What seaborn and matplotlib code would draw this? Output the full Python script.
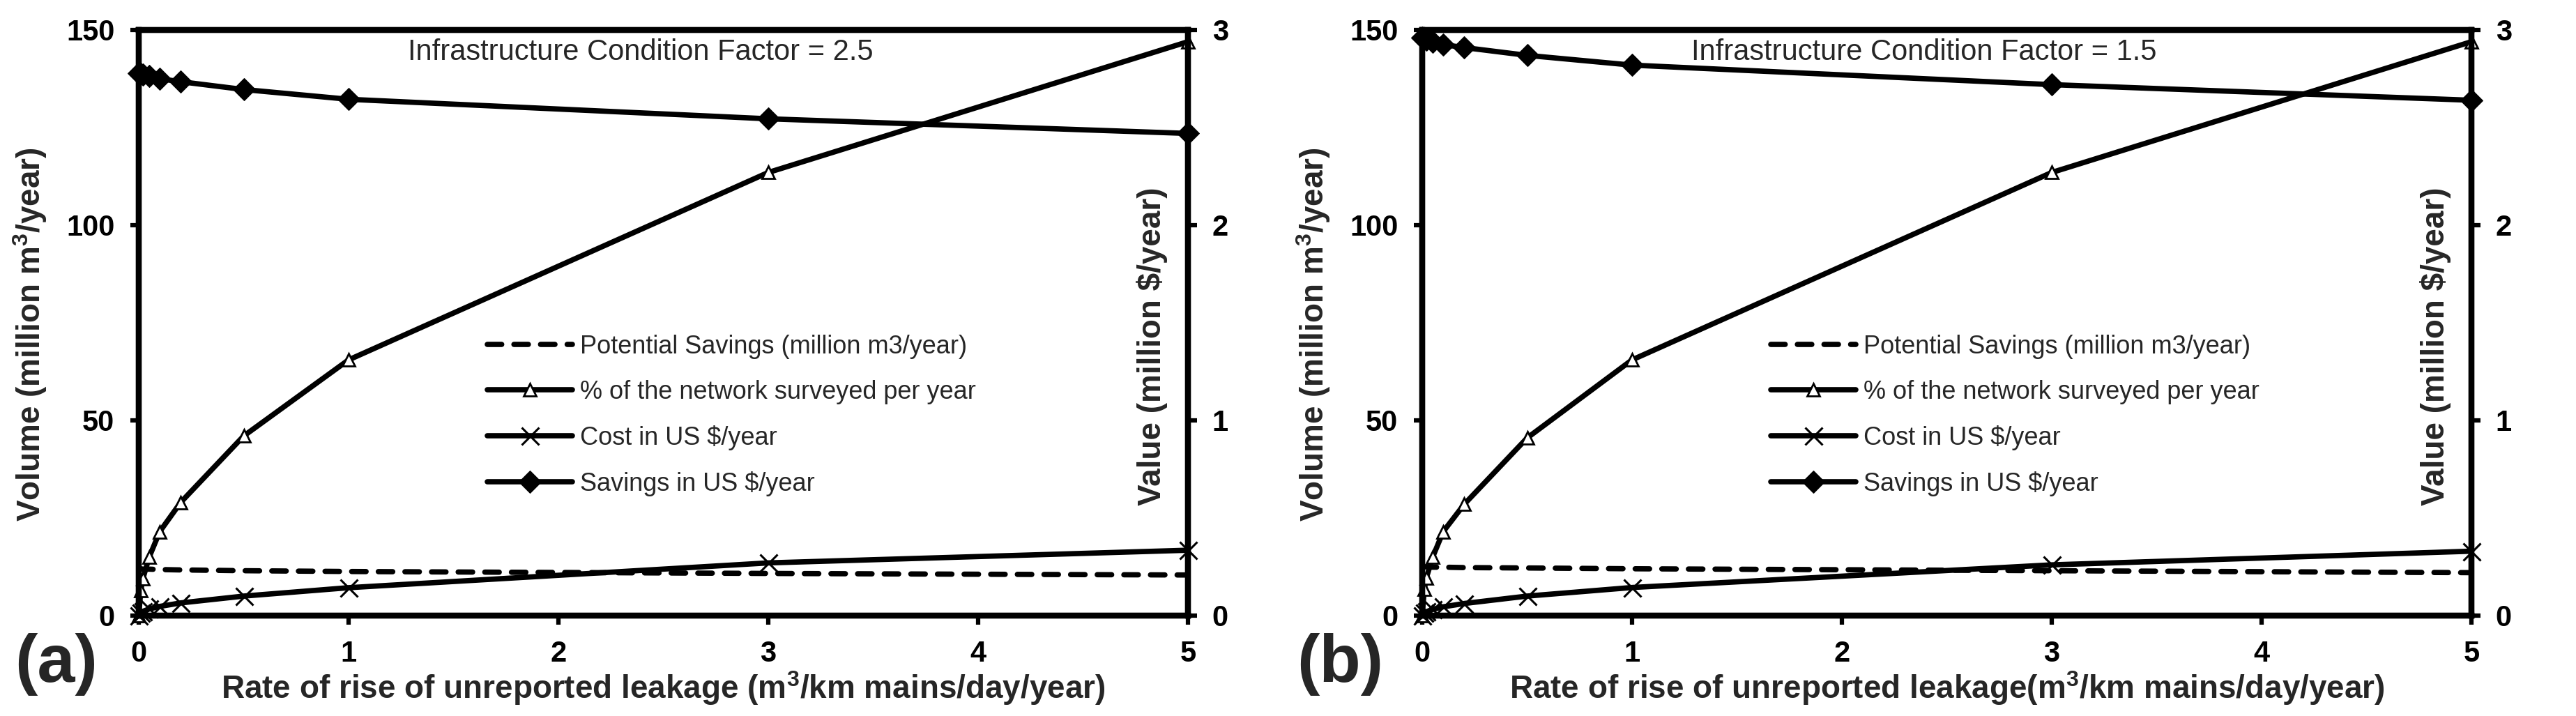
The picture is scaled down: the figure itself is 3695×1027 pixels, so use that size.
import numpy as np
import pandas as pd
import seaborn as sns
import matplotlib
matplotlib.use("Agg")
import matplotlib.pyplot as plt

# ---------------- data ----------------
rate = [0, 0.01, 0.02, 0.05, 0.1, 0.2, 0.5, 1, 3, 5]

potential_a = [12.0, 12.0, 11.9, 11.9, 11.8, 11.7, 11.5, 11.3, 10.8, 10.4]
surveyed_a = [0, 6.5, 9.5, 15, 21.5, 29, 46, 65.5, 113.5, 147]
cost_a = [0, 0.015, 0.022, 0.034, 0.047, 0.065, 0.10, 0.143, 0.27, 0.335]
savings_a = [2.78, 2.775, 2.77, 2.765, 2.75, 2.735, 2.695, 2.645, 2.545, 2.47]

potential_b = [12.5, 12.5, 12.5, 12.4, 12.4, 12.3, 12.2, 12.0, 11.5, 11.0]
surveyed_b = [0, 6.8, 9.7, 15, 21.5, 28.5, 45.5, 65.5, 113.5, 147]
cost_b = [0, 0.015, 0.02, 0.032, 0.045, 0.062, 0.10, 0.144, 0.26, 0.33]
savings_b = [2.96, 2.955, 2.95, 2.94, 2.925, 2.91, 2.87, 2.82, 2.72, 2.64]

factors = ["2.5", "1.5"]
panel_tags = ["(a)", "(b)"]
xlabels = ["Rate of rise of unreported leakage (m$^3$/km mains/day/year)",
           "Rate of rise of unreported leakage(m$^3$/km mains/day/year)"]
series_labels = ["Potential Savings (million m3/year)",
                 "% of the network surveyed per year",
                 "Cost in US $/year",
                 "Savings in US $/year"]
xticks = [0, 1, 2, 3, 4, 5]
left_ticks = [0, 50, 100, 150]
right_ticks = [0, 1, 2, 3]

# ---------------- style ----------------
sns.set_style("ticks")
plt.rcParams["font.family"] = ["Liberation Sans", "DejaVu Sans"]
plt.rcParams["mathtext.fontset"] = "custom"
plt.rcParams["mathtext.rm"] = "Liberation Sans"
plt.rcParams["mathtext.bf"] = "Liberation Sans:bold"
plt.rcParams["mathtext.default"] = "regular"

W, H = 3695, 1027
fig = plt.figure(figsize=(W / 100, H / 100), dpi=100)

ax_w = 1505 / W
ax_h = 840 / H
ax_bottom = (H - 883) / H
lefts = [199 / W, 2040 / W]

LW = 5.5
SPINE = 6

datasets = [
    (potential_a, surveyed_a, cost_a, savings_a),
    (potential_b, surveyed_b, cost_b, savings_b),
]

for i, (pot, surv, cost, sav) in enumerate(datasets):
    ax = fig.add_axes([lefts[i], ax_bottom, ax_w, ax_h])
    ax2 = ax.twinx()

    df = pd.DataFrame({"rate": rate, "pot": pot, "surv": surv,
                       "cost": cost, "sav": sav})

    sns.lineplot(data=df, x="rate", y="pot", ax=ax, color="black",
                 linewidth=LW, linestyle=(0, (2.7, 2.3)),
                 dash_capstyle="round", sort=False, estimator=None,
                 label=series_labels[0], legend=False, clip_on=False)
    sns.lineplot(data=df, x="rate", y="surv", ax=ax, color="black",
                 linewidth=LW, marker="^", markersize=13,
                 markerfacecolor="white", markeredgecolor="black",
                 markeredgewidth=2, sort=False, estimator=None,
                 label=series_labels[1], legend=False, clip_on=False)
    sns.lineplot(data=df, x="rate", y="cost", ax=ax2, color="black",
                 linewidth=LW, marker="x", markersize=18,
                 markeredgecolor="black", markeredgewidth=2.2,
                 sort=False, estimator=None,
                 label=series_labels[2], legend=False, clip_on=False)
    sns.lineplot(data=df, x="rate", y="sav", ax=ax2, color="black",
                 linewidth=LW, marker="D", markersize=16,
                 markerfacecolor="black", markeredgecolor="black",
                 sort=False, estimator=None,
                 label=series_labels[3], legend=False, clip_on=False)

    ax.set_xlim(0, 5)
    ax.set_ylim(0, 150)
    ax2.set_ylim(0, 3)
    ax.set_xticks(xticks)
    ax.set_yticks(left_ticks)
    ax2.set_yticks(right_ticks)

    for a in (ax, ax2):
        for s in a.spines.values():
            s.set_linewidth(SPINE)
            s.set_color("black")
        a.tick_params(direction="out", length=9, width=4.5, labelsize=30,
                      pad=16, colors="black")
        for lab in a.get_xticklabels() + a.get_yticklabels():
            lab.set_fontweight("bold")
    ax.tick_params(axis="y", right=False)

    ax.set_xlabel(xlabels[i], fontsize=33, fontweight="bold", labelpad=2)
    ax.set_ylabel("Volume (million m$^3$/year)", fontsize=33,
                  fontweight="bold")
    ax.yaxis.set_label_coords(-0.086, 0.48)
    ax2.set_ylabel("Value (million $/year)", fontsize=33, fontweight="bold")
    ax2.yaxis.set_label_coords(0.951, 0.46)

    ax.text(0.478, 0.986, f"Infrastructure Condition Factor = {factors[i]}",
            transform=ax.transAxes, ha="center", va="top", fontsize=30)

    handles = ax.get_lines()[:2] + ax2.get_lines()[:2]
    labels = [h.get_label() for h in handles]
    ax2.legend(handles, labels, loc="upper left",
               bbox_to_anchor=(0.332, 0.48), frameon=False,
               fontsize=26, handlelength=3.4, handletextpad=0.3,
               labelspacing=0.83, borderpad=0, borderaxespad=0)

    fig.text((lefts[i] * W - 118) / W, 1 - 953 / H, panel_tags[i],
             ha="center", va="center", fontsize=70, fontweight="bold")

fig.savefig("out.png", dpi=100)
